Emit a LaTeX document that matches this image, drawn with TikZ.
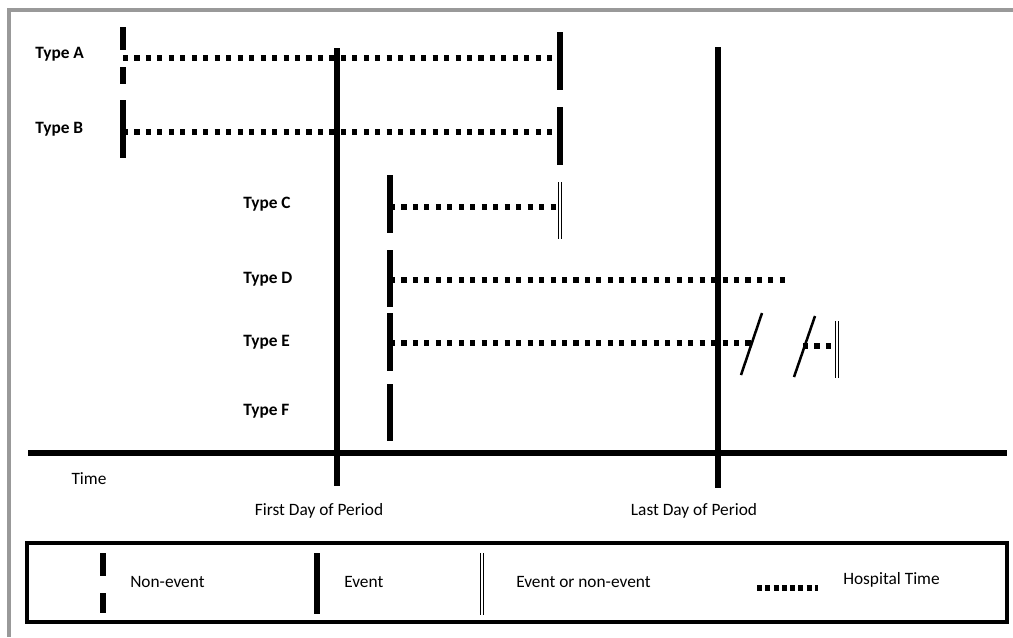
\documentclass[tikz,border=0pt]{standalone}
\usepackage{fontspec}
\setmainfont{Carlito}
\usetikzlibrary{positioning}

\tikzset{
  evt/.style={line width=3.8pt},
  nonevt/.style={line width=3.8pt, dash pattern=on 17pt off 13pt},
  eitherevt/.style={line width=0.9pt, double=white, double distance=1.6pt},
  hosp/.style={line width=3.8pt, dash pattern=on 3.8pt off 4.8pt},
  hospkey/.style={line width=3.8pt, dash pattern=on 3.8pt off 2.4pt},
  brk/.style={line width=1.9pt},
  typelbl/.style={anchor=west, font=\fontsize{13}{15}\selectfont\bfseries, inner sep=0pt},
  plainlbl/.style={font=\fontsize{13}{15}\selectfont, inner sep=0pt}
}

\begin{document}
\begin{tikzpicture}[x=0.75pt, y=-0.75pt]
	\useasboundingbox (0,0) rectangle (1013,637);
	\fill[white] (0,0) rectangle (1013,637);
	
	% grey frame
	\draw[line width=2.4pt, color=gray!80] (1013,10) -- (9,10) -- (9,637);
	
	% time axis and period bounds
	\coordinate (ax1) at (28,453);
	\coordinate (ax2) at (1007,453);
	\draw[line width=5pt] (ax1) -- (ax2);
	\node[plainlbl] (time) at (89,479) {Time};
	
	\coordinate (first top) at (337,48);
	\coordinate (first bot) at (337,486);
	\draw[evt] (first top) -- (first bot);
	\node[plainlbl] (first) at (319,511) {First Day of Period};
	
	\coordinate (last top) at (718,47);
	\coordinate (last bot) at (718,488);
	\draw[evt] (last top) -- (last bot);
	\node[plainlbl] (last) at (694,511) {Last Day of Period};
	
	% Type A
	\node[typelbl] (typeA) at (35,54) {Type A};
	\coordinate (a1) at (123,58);
	\coordinate (a2) at (560,58);
	\draw[hosp] (a1) -- (a2);
	\draw[nonevt] (123,27) -- (123,84);
	\draw[evt] (560,32) -- (560,90);
	
	% Type B
	\node[typelbl] (typeB) at (35,129) {Type B};
	\coordinate (b1) at (123,132);
	\coordinate (b2) at (560,132);
	\draw[hosp] (b1) -- (b2);
	\draw[evt] (123,100) -- (123,158);
	\draw[evt] (560,107) -- (560,165);
	
	% Type C
	\node[typelbl] (typeC) at (243,204) {Type C};
	\coordinate (c1) at (390,207);
	\coordinate (c2) at (558,207);
	\draw[hosp] (c1) -- (c2);
	\draw[evt] (390,175) -- (390,233);
	\draw[eitherevt] (560,182) -- (560,239);
	
	% Type D
	\node[typelbl] (typeD) at (243,279) {Type D};
	\coordinate (d1) at (390,280);
	\coordinate (d2) at (785,280);
	\draw[hosp] (d1) -- (d2);
	\draw[evt] (390,250) -- (390,307);
	
	% Type E
	\node[typelbl] (typeE) at (243,342) {Type E};
	\coordinate (e1) at (390,343);
	\coordinate (e2) at (752,343);
	\draw[hosp] (e1) -- (e2);
	\draw[evt] (390,313) -- (390,371);
	\draw[brk] (741,375) -- (762,313);
	\draw[brk] (794,377) -- (815,316);
	\coordinate (e3) at (803,346);
	\coordinate (e4) at (834,346);
	\draw[hosp] (e3) -- (e4);
	\draw[eitherevt] (837,321) -- (837,378);
	
	% Type F
	\node[typelbl] (typeF) at (243,411) {Type F};
	\draw[evt] (390,384) -- (390,441);
	
	% legend
	\draw[line width=2.3pt] (27,543) rectangle (1007,622);
	\draw[nonevt] (103,553) -- (103,613);
	\node[plainlbl, anchor=west] (lnon) at (130,582) {Non-event};
	\draw[evt] (317,553) -- (317,614);
	\node[plainlbl, anchor=west] (levt) at (344,582) {Event};
	\draw[eitherevt] (482,553) -- (482,615);
	\node[plainlbl, anchor=west] (leither) at (516,582) {Event or non-event};
	\coordinate (h1) at (757,588);
	\coordinate (h2) at (818,588);
	\draw[hospkey] (h1) -- (h2);
	\node[plainlbl, anchor=west] (lhosp) at (843,580) {Hospital Time};
	
\end{tikzpicture}
\end{document}
